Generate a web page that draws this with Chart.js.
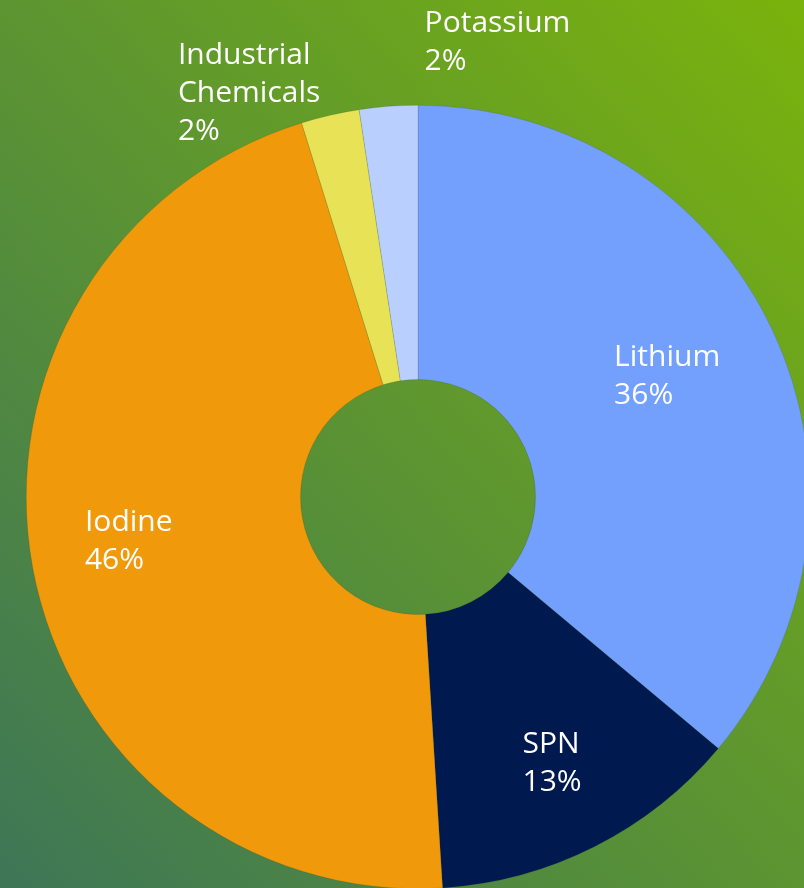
<!DOCTYPE html>
<html>
<head>
<meta charset="utf-8">
<script src="https://cdn.jsdelivr.net/npm/chart.js@4.4.0/dist/chart.umd.min.js"></script>
<style>
  html, body {
    margin: 0;
    width: 804px;
    height: 888px;
    overflow: hidden;
  }
  body {
    background: linear-gradient(to top right, #3e7657, #7ab30c);
    position: relative;
  }
  #chart {
    position: absolute;
    left: 0;
    top: 0;
  }
</style>
</head>
<body>
<canvas id="chart" width="836" height="994"></canvas>
<script>
const categories = ["Lithium", "SPN", "Iodine", "Industrial Chemicals", "Potassium"];
const shares = [36.1, 12.9, 46.2, 2.4, 2.4];
const sliceColors = ["#72a0fc", "#001a4f", "#f0990a", "#e8e257", "#b9d0ff"];

// label nudges in px; small slices get their label outside the ring
const labelNudge = {
	0: { dx: -10, dy: 0 },
	1: { dx: 5, dy: 11 },
	2: { dx: -8, dy: -7 },
	3: { dx: -81, dy: -22, outside: true },
	4: { dx: 109, dy: -64, outside: true },
};

function wrapText(ctx, text, maxWidth) {
	const words = text.split(" ");
	const lines = [];
	let line = "";
	words.forEach((w) => {
		const test = line ? line + " " + w : w;
		if (line && ctx.measureText(test).width > maxWidth) {
			lines.push(line);
			line = w;
		} else {
			line = test;
		}
	});
	lines.push(line);
	return lines;
}

const sliceLabels = {
	id: "sliceLabels",
	afterDatasetsDraw(chart) {
		const ctx = chart.ctx;
		const meta = chart.getDatasetMeta(0);
		const lh = 38;
		ctx.save();
		ctx.font = '30px "Open Sans"';
		ctx.fillStyle = "#ffffff";
		ctx.textAlign = "left";
		ctx.textBaseline = "middle";
		meta.data.forEach((arc, i) => {
			const p = arc.getProps(["x", "y", "startAngle", "endAngle", "innerRadius", "outerRadius"], true);
			const mid = (p.startAngle + p.endAngle) / 2;
			const lines = wrapText(ctx, categories[i], 170).concat(Math.round(shares[i]) + "%");
			const w = Math.max(...lines.map((l) => ctx.measureText(l).width));
			const n = labelNudge[i] || { dx: 0, dy: 0 };
			const r = n.outside ? p.outerRadius : p.outerRadius * 0.73;
			const cx = p.x + Math.cos(mid) * r + n.dx;
			const cy = p.y + Math.sin(mid) * r + n.dy;
			const left = cx - w / 2;
			const top = cy - (lines.length * lh) / 2;
			lines.forEach((t, k) => ctx.fillText(t, left, top + lh * (k + 0.5)));
		});
		ctx.restore();
	},
};

new Chart(document.getElementById("chart"), {
	type: "doughnut",
	data: {
		labels: categories,
		datasets: [
			{
				data: shares,
				backgroundColor: sliceColors,
				borderColor: "rgba(40, 60, 40, 0.3)",
				borderWidth: 0.5,
			},
		],
	},
	options: {
		responsive: false,
		animation: false,
		cutout: "30%",
		layout: {
			padding: { left: 26, right: 26, top: 105, bottom: 105 },
		},
		plugins: {
			legend: { display: false },
			tooltip: { enabled: false },
		},
	},
	plugins: [sliceLabels],
});
</script>
</body>
</html>
